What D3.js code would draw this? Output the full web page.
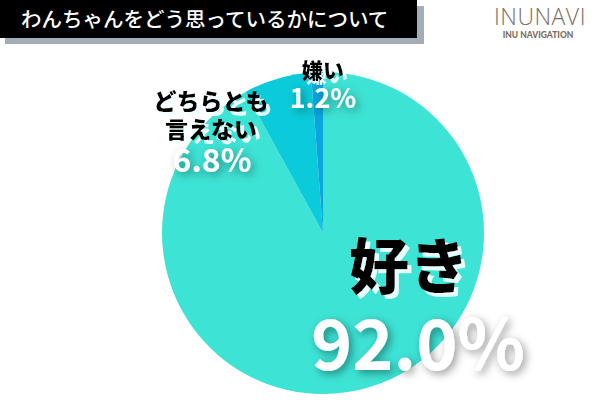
<!DOCTYPE html>
<html><head><meta charset="utf-8">
<script src="https://cdn.jsdelivr.net/npm/d3@7"></script>
<style>
html,body{margin:0;padding:0;background:#fff;}
svg{display:block;font-family:"Noto Sans CJK JP","Noto Sans",sans-serif;}
</style></head>
<body>
<svg id="c" width="600" height="400"></svg>
<script>
const title = "わんちゃんをどう思っているかについて";
const categories = ["好き", "どちらとも言えない", "嫌い"];
const values = [92.0, 6.8, 1.2];
const colors = ["#3de3d5", "#0bcad9", "#0aa5df"];
const valueLabels = ["92.0%", "6.8%", "1.2%"];

const svg = d3.select("#c");
const defs = svg.append("defs");
const f1 = defs.append("filter").attr("id","lightShadow").attr("x","-20%").attr("y","-20%").attr("width","150%").attr("height","150%");
f1.append("feDropShadow").attr("dx",4).attr("dy",4).attr("stdDeviation",0.3).attr("flood-color","#f0ffff").attr("flood-opacity",0.95);
const f2 = defs.append("filter").attr("id","darkShadow").attr("x","-30%").attr("y","-30%").attr("width","170%").attr("height","170%");
f2.append("feDropShadow").attr("dx",3).attr("dy",3).attr("stdDeviation",4).attr("flood-color","#000").attr("flood-opacity",0.4);

// title bar
svg.append("rect").attr("x",5).attr("y",6).attr("width",419).attr("height",38).attr("fill","#a3adb8");
svg.append("rect").attr("x",0).attr("y",0).attr("width",417).attr("height",38).attr("fill","#000");
svg.append("text").attr("x",21).attr("y",27).attr("fill","#fff").attr("font-size",20.5).attr("font-weight",500).text(title);

// logo
svg.append("text").attr("x",540).attr("y",25).attr("text-anchor","middle").attr("fill","#7d6e5f")
  .attr("font-family","'Open Sans','Lato',sans-serif").attr("font-weight",300).attr("font-size",23).attr("letter-spacing",0.5).text("INUNAVI");
svg.append("text").attr("x",538).attr("y",38).attr("text-anchor","middle").attr("fill","#7d6e5f")
  .attr("font-family","'Lato','Open Sans',sans-serif").attr("font-weight",900).attr("font-size",8.5).text("INU NAVIGATION");

// pie
const cx = 323, cy = 233, r = 161;
const pie = d3.pie().sort(null).value(d => d.v);
const arcs = pie(categories.map((c,i)=>({c, v: values[i], col: colors[i]})));
const arc = d3.arc().innerRadius(0).outerRadius(r);
const g = svg.append("g").attr("transform",`translate(${cx},${cy})`);
g.selectAll("path").data(arcs).enter().append("path").attr("d",arc).attr("fill",d=>d.data.col);

// labels
function label(lines, x, y, size, lh){
  const t = svg.append("text").attr("text-anchor","middle").attr("font-weight",900).attr("font-size",size)
    .attr("fill","#000").attr("filter","url(#lightShadow)");
  lines.forEach((l,i)=> t.append("tspan").attr("x",x).attr("y",y+i*lh).text(l));
}
function num(txt, x, y, size){
  svg.append("text").attr("x",x).attr("y",y).attr("text-anchor","middle").attr("font-weight",700)
    .attr("font-size",size).attr("fill","#fff").attr("filter","url(#darkShadow)").text(txt);
}
// 好き
label([categories[0]], 409, 289, 60, 0);
num(valueLabels[0], 418, 370, 70);
// どちらとも言えない
label(["どちらとも","言えない"], 211, 110, 23, 28);
num(valueLabels[1], 212, 172, 32);
// 嫌い
label([categories[2]], 323, 78, 21, 0);
num(valueLabels[2], 323, 108, 27);
</script>
</body></html>
